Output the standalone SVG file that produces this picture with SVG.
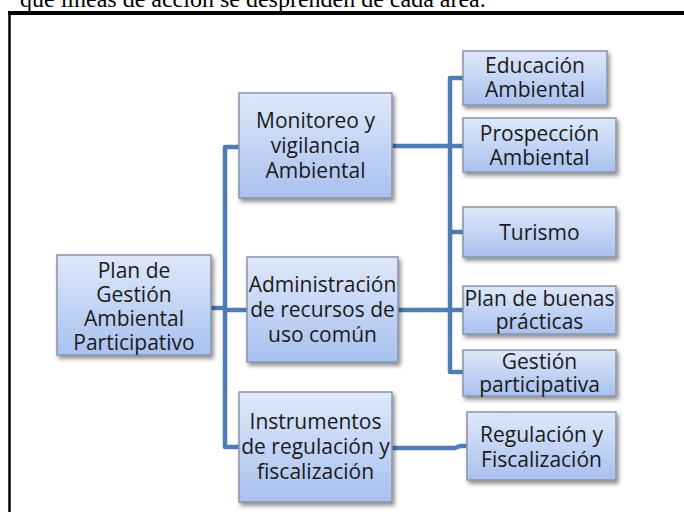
<svg xmlns="http://www.w3.org/2000/svg" width="684" height="512" viewBox="0 0 684 512">
<defs>
<linearGradient id="g" x1="0" y1="0" x2="0" y2="1">
<stop offset="0" stop-color="#dfe8fa"/>
<stop offset="1" stop-color="#a8c1ef"/>
</linearGradient>
<filter id="sh" x="-10%" y="-10%" width="130%" height="130%">
<feDropShadow dx="2" dy="3" stdDeviation="2" flood-color="#000" flood-opacity="0.45"/>
</filter>
</defs>
<style>
.box{fill:url(#g);stroke:#8795aa;stroke-width:1.5;filter:url(#sh)}
.t{font-family:"Open Sans","Noto Sans",sans-serif;font-size:21px;fill:#1a1a1a;text-anchor:middle}
.c{fill:none;stroke:#4f7cb4;stroke-width:4.5;stroke-linejoin:round}
.hd{font-family:"Liberation Serif","Times New Roman",serif;font-size:24px;fill:#000}
</style>
<rect width="684" height="512" fill="#fff"/>
<text class="hd" x="20" y="7">que líneas de acción se desprenden de cada área.</text>
<line x1="8" y1="13" x2="684" y2="13" stroke="#000" stroke-width="4"/>
<line x1="9.5" y1="11" x2="9.5" y2="512" stroke="#000" stroke-width="2.5"/>
<g id="connectors">
<path class="c" d="M211,308 H225 M239,147 H225 V447 H239 M225,310 H247"/>
<path class="c" d="M392,146 H450 M463,78 H450 V372 H463 M450,146 H463 M450,232 H463 M398,310 H463"/>
<path class="c" d="M392,448 H455 L460,446 H467"/>
</g>
<g id="n-plan">
<rect class="box" x="57" y="255" width="154" height="100"/>
<text class="t" x="134" y="278">Plan de</text>
<text class="t" x="134" y="302">Gestión</text>
<text class="t" x="134" y="326">Ambiental</text>
<text class="t" x="134" y="350">Participativo</text>
</g>
<g id="n-monitoreo">
<rect class="box" x="239" y="93" width="153" height="105"/>
<text class="t" x="315.5" y="128">Monitoreo y</text>
<text class="t" x="315.5" y="153">vigilancia</text>
<text class="t" x="315.5" y="178">Ambiental</text>
</g>
<g id="n-admin">
<rect class="box" x="247" y="257" width="151" height="105"/>
<text class="t" x="322.5" y="292">Administración</text>
<text class="t" x="322.5" y="317">de recursos de</text>
<text class="t" x="322.5" y="342">uso común</text>
</g>
<g id="n-instrumentos">
<rect class="box" x="239" y="392" width="153" height="110"/>
<text class="t" x="315.5" y="429">Instrumentos</text>
<text class="t" x="315.5" y="454">de regulación y</text>
<text class="t" x="315.5" y="479">fiscalización</text>
</g>
<g id="n-educacion">
<rect class="box" x="463" y="51" width="144" height="54"/>
<text class="t" x="535" y="73">Educación</text>
<text class="t" x="535" y="97">Ambiental</text>
</g>
<g id="n-prospeccion">
<rect class="box" x="463" y="118" width="153" height="54"/>
<text class="t" x="539.5" y="141">Prospección</text>
<text class="t" x="539.5" y="165">Ambiental</text>
</g>
<g id="n-turismo">
<rect class="box" x="463" y="207" width="153" height="50"/>
<text class="t" x="539.5" y="240">Turismo</text>
</g>
<g id="n-buenas">
<rect class="box" x="463" y="286" width="153" height="48"/>
<text class="t" x="539.5" y="306">Plan de buenas</text>
<text class="t" x="539.5" y="329">prácticas</text>
</g>
<g id="n-gestion">
<rect class="box" x="463" y="350" width="153" height="46"/>
<text class="t" x="539.5" y="369">Gestión</text>
<text class="t" x="539.5" y="392">participativa</text>
</g>
<g id="n-regulacion">
<rect class="box" x="467" y="412" width="149" height="68"/>
<text class="t" x="541.5" y="442">Regulación y</text>
<text class="t" x="541.5" y="467">Fiscalización</text>
</g>
</svg>
